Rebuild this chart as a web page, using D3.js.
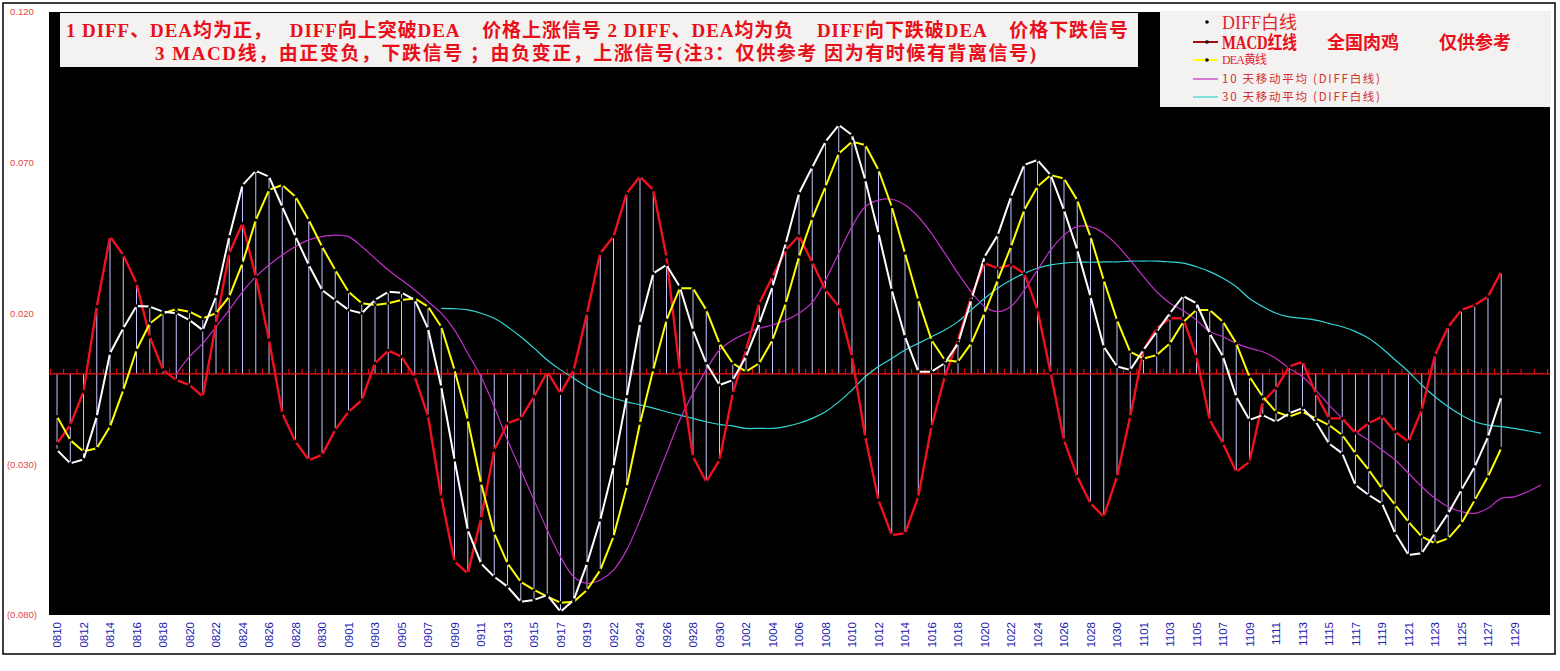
<!DOCTYPE html>
<html><head><meta charset="utf-8">
<script src="https://cdn.jsdelivr.net/npm/d3@7/dist/d3.min.js"></script>
<style>body{margin:0;background:#fff}svg{display:block}</style>
</head><body>
<svg id="c" width="1560" height="671"></svg>
<script>
// ---------------- data ----------------
const dates = ["0810","0811","0812","0813","0814","0815","0816","0817","0818","0819","0820","0821","0822","0823","0824","0825","0826","0827","0828","0829","0830","0831","0901","0902","0903","0904","0905","0906","0907","0908","0909","0910","0911","0912","0913","0914","0915","0916","0917","0918","0919","0921","0922","0923","0924","0925","0926","0927","0928","0929","0930","1001","1002","1003","1004","1005","1006","1007","1008","1009","1010","1011","1012","1013","1014","1015","1016","1017","1018","1019","1020","1021","1022","1023","1024","1025","1026","1027","1028","1029","1030","1031","1101","1102","1103","1104","1105","1106","1107","1108","1109","1110","1111","1112","1113","1114","1115","1116","1117","1118","1119","1120","1121","1122","1123","1124","1125","1126","1127","1128","1129","1130","1201"];
const tickLabels = ["0810","0812","0814","0816","0818","0820","0822","0824","0826","0828","0830","0901","0903","0905","0907","0909","0911","0913","0915","0917","0919","0922","0924","0926","0928","0930","1002","1004","1006","1008","1010","1012","1014","1016","1018","1020","1022","1024","1026","1028","1030","1101","1103","1105","1107","1109","1111","1113","1115","1117","1119","1121","1123","1125","1127","1129"];
const yTicks = [0.12, 0.07, 0.02, -0.03, -0.08];
// DIFF (white), DEA (yellow), MACD (red) from 0810 to 1128
const diff = [-0.0253,-0.0297,-0.0284,-0.0142,0.0068,0.0151,0.0225,0.0223,0.0206,0.0201,0.0178,0.0145,0.0256,0.0455,0.0626,0.0673,0.0654,0.0554,0.0455,0.0361,0.0278,0.0245,0.0212,0.0201,0.0245,0.0272,0.0269,0.0245,0.0150,-0.0043,-0.0286,-0.0518,-0.0629,-0.0673,-0.0706,-0.0756,-0.0750,-0.0734,-0.0789,-0.0750,-0.0629,-0.0485,-0.0308,-0.0076,0.0167,0.0333,0.0361,0.0289,0.0145,0.0035,-0.0037,-0.0021,0.0057,0.0167,0.0289,0.0433,0.0599,0.0685,0.0770,0.0825,0.0792,0.0643,0.0466,0.0278,0.0123,0.0007,0.0007,0.0035,0.0101,0.0245,0.0388,0.0460,0.0587,0.0693,0.0709,0.0659,0.0543,0.0411,0.0256,0.0090,0.0024,0.0013,0.0079,0.0140,0.0201,0.0258,0.0234,0.0134,0.0057,-0.0076,-0.0153,-0.0137,-0.0159,-0.0131,-0.0114,-0.0159,-0.0231,-0.0264,-0.0369,-0.0402,-0.0430,-0.0529,-0.0601,-0.0595,-0.0529,-0.0463,-0.0385,-0.0308,-0.0209,-0.0076];
const dea = [-0.0142,-0.0220,-0.0258,-0.0247,-0.0175,-0.0054,0.0079,0.0167,0.0201,0.0214,0.0206,0.0184,0.0201,0.0256,0.0367,0.0510,0.0610,0.0626,0.0587,0.0510,0.0422,0.0344,0.0272,0.0234,0.0228,0.0234,0.0245,0.0250,0.0223,0.0156,0.0013,-0.0153,-0.0363,-0.0529,-0.0629,-0.0690,-0.0717,-0.0739,-0.0759,-0.0756,-0.0717,-0.0651,-0.0540,-0.0374,-0.0164,0.0013,0.0178,0.0284,0.0284,0.0212,0.0101,0.0035,0.0007,0.0035,0.0112,0.0234,0.0388,0.0515,0.0621,0.0731,0.0770,0.0759,0.0676,0.0554,0.0400,0.0245,0.0112,0.0046,0.0040,0.0101,0.0201,0.0311,0.0422,0.0543,0.0621,0.0659,0.0648,0.0576,0.0455,0.0311,0.0178,0.0073,0.0051,0.0062,0.0101,0.0172,0.0212,0.0212,0.0173,0.0101,-0.0010,-0.0076,-0.0126,-0.0142,-0.0126,-0.0148,-0.0170,-0.0203,-0.0264,-0.0319,-0.0380,-0.0435,-0.0491,-0.0540,-0.0562,-0.0546,-0.0496,-0.0419,-0.0341,-0.0247];
const macd = [-0.0231,-0.0170,-0.0059,0.0223,0.0455,0.0394,0.0300,0.0123,0.0013,-0.0021,-0.0037,-0.0076,0.0167,0.0400,0.0499,0.0322,0.0112,-0.0131,-0.0225,-0.0286,-0.0269,-0.0186,-0.0126,-0.0087,0.0035,0.0077,0.0057,-0.0010,-0.0140,-0.0408,-0.0623,-0.0662,-0.0480,-0.0253,-0.0164,-0.0148,-0.0076,0.0007,-0.0065,0.0013,0.0201,0.0400,0.0455,0.0599,0.0654,0.0610,0.0388,0.0013,-0.0275,-0.0358,-0.0286,-0.0065,0.0079,0.0234,0.0322,0.0411,0.0457,0.0370,0.0278,0.0223,0.0057,-0.0209,-0.0419,-0.0535,-0.0529,-0.0408,-0.0175,-0.0010,0.0112,0.0256,0.0367,0.0350,0.0361,0.0333,0.0212,0.0002,-0.0220,-0.0341,-0.0430,-0.0474,-0.0341,-0.0142,0.0079,0.0151,0.0184,0.0184,0.0057,-0.0153,-0.0231,-0.0325,-0.0292,-0.0093,-0.0048,0.0024,0.0040,-0.0065,-0.0148,-0.0148,-0.0197,-0.0164,-0.0142,-0.0192,-0.0225,-0.0120,0.0062,0.0156,0.0212,0.0228,0.0256,0.0339];
// 10-day moving average of DIFF (magenta), starts 0819
const ma10From = "0819";
const ma10 = [0.0000,0.0057,0.0101,0.0156,0.0212,0.0272,0.0322,0.0361,0.0394,0.0422,0.0444,0.0455,0.0460,0.0455,0.0422,0.0383,0.0344,0.0311,0.0278,0.0240,0.0201,0.0145,0.0068,-0.0010,-0.0109,-0.0220,-0.0319,-0.0419,-0.0518,-0.0607,-0.0673,-0.0695,-0.0684,-0.0651,-0.0584,-0.0485,-0.0374,-0.0264,-0.0153,-0.0065,0.0013,0.0079,0.0112,0.0134,0.0151,0.0162,0.0178,0.0201,0.0237,0.0311,0.0400,0.0488,0.0554,0.0576,0.0579,0.0560,0.0521,0.0466,0.0400,0.0333,0.0272,0.0223,0.0206,0.0223,0.0278,0.0344,0.0411,0.0460,0.0488,0.0488,0.0466,0.0427,0.0377,0.0322,0.0272,0.0234,0.0209,0.0178,0.0140,0.0123,0.0101,0.0085,0.0073,0.0051,0.0018,-0.0010,-0.0054,-0.0103,-0.0148,-0.0192,-0.0220,-0.0253,-0.0286,-0.0330,-0.0374,-0.0413,-0.0441,-0.0457,-0.0463,-0.0446,-0.0413,-0.0408,-0.0391,-0.0369];
// 30-day moving average of DIFF (cyan), starts 0908
const ma30From = "0908";
const ma30 = [0.0217,0.0216,0.0212,0.0201,0.0184,0.0156,0.0123,0.0085,0.0046,0.0013,-0.0015,-0.0043,-0.0065,-0.0081,-0.0093,-0.0103,-0.0114,-0.0126,-0.0137,-0.0148,-0.0159,-0.0168,-0.0173,-0.0181,-0.0181,-0.0181,-0.0175,-0.0164,-0.0148,-0.0126,-0.0093,-0.0054,-0.0010,0.0024,0.0051,0.0079,0.0101,0.0123,0.0145,0.0173,0.0212,0.0250,0.0284,0.0311,0.0333,0.0350,0.0361,0.0367,0.0370,0.0370,0.0371,0.0371,0.0374,0.0374,0.0374,0.0371,0.0367,0.0355,0.0339,0.0317,0.0289,0.0250,0.0223,0.0201,0.0189,0.0184,0.0178,0.0167,0.0156,0.0140,0.0118,0.0085,0.0046,0.0007,-0.0037,-0.0076,-0.0109,-0.0137,-0.0159,-0.0170,-0.0175,-0.0181,-0.0189,-0.0197];

const titleLine1 = "1 DIFF、DEA均为正，   DIFF向上突破DEA    价格上涨信号 2 DIFF、DEA均为负    DIFF向下跌破DEA    价格下跌信号";
const titleLine2 = "3 MACD线，由正变负，下跌信号 ；由负变正，上涨信号(注3：仅供参考 因为有时候有背离信号)";

// ---------------- layout ----------------
const svg = d3.select("#c");
const P = {left: 49, right: 1550, top: 12, bottom: 615};
const x = d3.scaleBand().domain(dates).range([50.4, 1547.6]).padding(0);
const cx = d => x(d) + x.bandwidth() / 2;
const y = d3.scaleLinear().domain([-0.08, 0.12]).range([P.bottom, P.top]);

// outer frame
svg.append("rect").attr("x", 3).attr("y", 3).attr("width", 1552).attr("height", 651)
  .attr("fill", "#fff").attr("stroke", "#000").attr("stroke-width", 1.5);
// plot area
svg.append("rect").attr("x", P.left).attr("y", P.top).attr("width", P.right - P.left).attr("height", P.bottom - P.top)
  .attr("fill", "#000");

svg.append("clipPath").attr("id", "pc").append("rect")
  .attr("x", P.left).attr("y", P.top).attr("width", P.right - P.left).attr("height", P.bottom - P.top);
const g = svg.append("g").attr("clip-path", "url(#pc)");

// rows
const main = dates.slice(0, diff.length).map((d, i) => ({d, diff: diff[i], dea: dea[i], macd: macd[i]}));
const i10 = dates.indexOf(ma10From), i30 = dates.indexOf(ma30From);
const ma10Rows = ma10.map((v, k) => ({d: dates[i10 + k], v}));
const ma30Rows = ma30.map((v, k) => ({d: dates[i30 + k], v}));

// high-low lines
g.append("g").selectAll("line").data(main).join("line")
  .attr("x1", r => cx(r.d)).attr("x2", r => cx(r.d))
  .attr("y1", r => y(Math.max(0, r.diff, r.dea, r.macd)))
  .attr("y2", r => y(Math.min(0, r.diff, r.dea, r.macd)))
  .attr("stroke", "#c4c4ff").attr("stroke-width", 1);

// zero axis (category axis crossing at 0) with ticks upward
const zeroG = g.append("g").attr("transform", `translate(0,${y(0)})`);
zeroG.append("line").attr("x1", P.left).attr("x2", P.right).attr("y1", 0).attr("y2", 0)
  .attr("stroke", "#ff1010").attr("stroke-width", 1.2);
const bounds = dates.map(d => x(d)).concat([x(dates[dates.length - 1]) + x.bandwidth()]);
zeroG.selectAll("line.tk").data(bounds).join("line").attr("class", "tk")
  .attr("x1", b => b).attr("x2", b => b)
  .attr("y1", 0).attr("y2", -5).attr("stroke", "#ff1010").attr("stroke-width", 1);

// moving averages (smoothed)
const smooth = d3.line().x(r => cx(r.d)).y(r => y(r.v)).curve(d3.curveCatmullRom.alpha(0.5));
g.append("path").datum(ma30Rows).attr("d", smooth).attr("fill", "none").attr("stroke", "#33d6d6").attr("stroke-width", 1.2);
g.append("path").datum(ma10Rows).attr("d", smooth).attr("fill", "none").attr("stroke", "#c030c8").attr("stroke-width", 1.2);

// main lines
const lineOf = key => d3.line().x(r => cx(r.d)).y(r => y(r[key]));
g.append("path").datum(main).attr("d", lineOf("macd")).attr("fill", "none").attr("stroke", "#f01020").attr("stroke-width", 2.4).attr("stroke-linejoin", "round");
g.append("path").datum(main).attr("d", lineOf("dea")).attr("fill", "none").attr("stroke", "#ffff00").attr("stroke-width", 2).attr("stroke-linejoin", "round");
g.append("path").datum(main).attr("d", lineOf("diff")).attr("fill", "none").attr("stroke", "#ffffff").attr("stroke-width", 2).attr("stroke-linejoin", "round");
["macd", "dea", "diff"].forEach(k => {
  g.append("g").selectAll("circle").data(main).join("circle")
    .attr("cx", r => cx(r.d)).attr("cy", r => y(r[k])).attr("r", 1.6).attr("fill", "#000");
});

// y labels
const fmt = d3.format(".3f");
svg.append("g").selectAll("text").data(yTicks).join("text")
  .attr("x", 22).attr("y", v => y(v)).attr("dy", "0.35em").attr("text-anchor", "middle")
  .attr("font-family", "Liberation Sans, Arial, sans-serif").attr("font-size", 9.5).attr("fill", "#e04848")
  .text(v => v < 0 ? "(" + fmt(-v) + ")" : fmt(v));

// x labels
const xb = d3.axisBottom(x).tickValues(tickLabels).tickSize(0);
const xg = svg.append("g").attr("transform", `translate(0,${P.bottom})`).call(xb);
xg.select(".domain").remove();
xg.selectAll("text").attr("transform", "rotate(-90)").attr("x", -7).attr("y", 0).attr("dy", "0.35em")
  .attr("text-anchor", "end").attr("font-family", "Liberation Sans, Arial, sans-serif").attr("font-size", 11.5)
  .attr("fill", "#2020b0");

// title box
svg.append("rect").attr("x", 60).attr("y", 13).attr("width", 1078).attr("height", 54).attr("fill", "#f4f1f1");
const tfont = "Liberation Serif, 'Noto Sans CJK SC', serif";
svg.append("text").attr("x", 66).attr("y", 37).attr("font-family", tfont).attr("font-size", 19)
  .attr("fill", "#e8101a").attr("font-weight", "bold").style("white-space", "pre")
  .attr("textLength", 1062).text(titleLine1);
svg.append("text").attr("x", 155).attr("y", 60).attr("font-family", tfont).attr("font-size", 19)
  .attr("fill", "#e8101a").attr("font-weight", "bold").style("white-space", "pre")
  .attr("textLength", 881).text(titleLine2);

// legend box
const L = svg.append("g");
L.append("rect").attr("x", 1160).attr("y", 11).attr("width", 391).attr("height", 96).attr("fill", "#f4f1f1");
const lf = "Liberation Serif, 'Noto Sans CJK SC', serif";
// DIFF
L.append("circle").attr("cx", 1207).attr("cy", 22).attr("r", 1.8).attr("fill", "#000");
L.append("text").attr("x", 1222).attr("y", 29).attr("font-family", lf).attr("font-size", 18).attr("fill", "#e02828")
  .attr("textLength", 75).text("DIFF白线");
// MACD
L.append("line").attr("x1", 1193).attr("x2", 1218).attr("y1", 42).attr("y2", 42).attr("stroke", "#a01010").attr("stroke-width", 2);
L.append("circle").attr("cx", 1207).attr("cy", 42).attr("r", 1.8).attr("fill", "#000");
L.append("text").attr("x", 1222).attr("y", 49).attr("font-family", lf).attr("font-size", 18).attr("font-weight", "bold").attr("fill", "#e8101a")
  .attr("textLength", 75).attr("lengthAdjust", "spacingAndGlyphs").text("MACD红线");
L.append("text").attr("x", 1327).attr("y", 49).attr("font-family", lf).attr("font-size", 18).attr("font-weight", "bold").attr("fill", "#e8101a").text("全国肉鸡");
L.append("text").attr("x", 1439).attr("y", 49).attr("font-family", lf).attr("font-size", 18).attr("font-weight", "bold").attr("fill", "#e8101a").text("仅供参考");
// DEA
L.append("line").attr("x1", 1193).attr("x2", 1218).attr("y1", 60).attr("y2", 60).attr("stroke", "#ffff00").attr("stroke-width", 2);
L.append("circle").attr("cx", 1207).attr("cy", 60).attr("r", 1.8).attr("fill", "#000");
L.append("text").attr("x", 1222).attr("y", 64).attr("font-family", lf).attr("font-size", 12).attr("fill", "#e02828")
  .attr("textLength", 45).text("DEA黄线");
// MAs
L.append("line").attr("x1", 1193).attr("x2", 1218).attr("y1", 79).attr("y2", 79).attr("stroke", "#c030c8").attr("stroke-width", 1.2);
L.append("text").attr("x", 1222).attr("y", 83).attr("font-family", "'Noto Sans CJK SC', sans-serif").attr("font-size", 11.5).attr("fill", "#d03030")
  .style("white-space", "pre").attr("textLength", 158).text("10 天移动平均 (DIFF白线)");
L.append("line").attr("x1", 1193).attr("x2", 1218).attr("y1", 97).attr("y2", 97).attr("stroke", "#33d6d6").attr("stroke-width", 1.2);
L.append("text").attr("x", 1222).attr("y", 101).attr("font-family", "'Noto Sans CJK SC', sans-serif").attr("font-size", 11.5).attr("fill", "#d03030")
  .style("white-space", "pre").attr("textLength", 158).text("30 天移动平均 (DIFF白线)");
</script>
</body></html>
